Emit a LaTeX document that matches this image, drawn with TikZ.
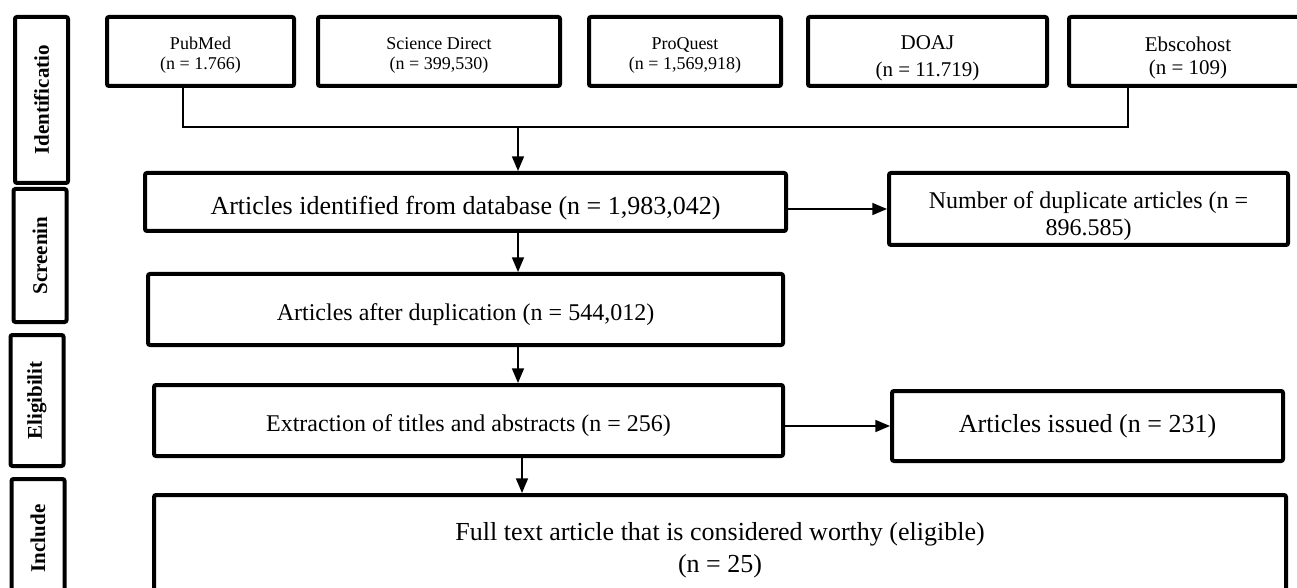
\documentclass[tikz,border=0pt]{standalone}
\usepackage{fontspec}
\setmainfont{Liberation Serif}
\usetikzlibrary{arrows.meta,positioning}

\begin{document}
\begin{tikzpicture}[x=0.75pt,y=-0.75pt,
        box/.style={draw, line width=3pt, rounded corners=1.5pt, align=center, inner sep=0pt},
        stage/.style={draw, line width=3pt, rounded corners=1.5pt, rotate=90, inner sep=0pt,
            minimum height=39.75pt, font=\fontsize{15.75}{18}\selectfont\bfseries},
        conn/.style={line width=1.2pt},
        arr/.style={line width=1.2pt, -{Triangle[length=11pt,width=9pt]}}]
        \useasboundingbox (0,0) rectangle (1297,588);
        \clip (0,0) rectangle (1297,588);

        % stages on the left
        \node[stage, minimum width=124.5pt] (sident) at (41.5,100) {Identificatio};
        \node[stage, minimum width=99.75pt] (sscreen) at (40,255.5) {Screenin};
        \node[stage, minimum width=98.25pt] (selig) at (37,400.5) {Eligibilit};
        \node[stage, minimum width=89.25pt] (sincl) at (38,538.5) {Include};

        % databases
        \node[box, minimum width=140.25pt, minimum height=51.75pt,
            font=\fontsize{13.5}{15}\selectfont] (pubmed) at (200.5,51.5) {\rule{0pt}{15.5pt}PubMed\\(n = 1.766)};
        \node[box, minimum width=181.5pt, minimum height=51.75pt,
            font=\fontsize{13.5}{15}\selectfont] (scidir) at (439,51.5) {\rule{0pt}{15.5pt}Science Direct\\(n = 399,530)};
        \node[box, minimum width=144pt, minimum height=51.75pt,
            font=\fontsize{13.5}{15}\selectfont] (proquest) at (685,51.5) {\rule{0pt}{15.5pt}ProQuest\\(n = 1,569,918)};
        \node[box, minimum width=179.25pt, minimum height=51.75pt,
            font=\fontsize{15.75}{20}\selectfont] (doaj) at (927.5,51.5) {\rule{0pt}{21pt}DOAJ\\(n = 11.719)};
        \node[box, minimum width=178.5pt, minimum height=51.75pt,
            font=\fontsize{15.75}{17}\selectfont] (ebsco) at (1188,51.5) {\rule{0pt}{21pt}Ebscohost\\(n = 109)};

        % flow boxes
        \node[box, minimum width=480.75pt, minimum height=43.5pt, text height=23pt, text depth=4pt,
            font=\fontsize{19.5}{22}\selectfont] (ident) at (465.5,202) {Articles identified from database (n = 1,983,042)};
        \node[box, minimum width=299.25pt, minimum height=54pt,
            font=\fontsize{18}{20}\selectfont] (dup) at (1088.5,209) {\rule{0pt}{23pt}Number of duplicate articles (n =\\896.585)};
        \node[box, minimum width=476.25pt, minimum height=53.25pt, text height=20pt, text depth=4pt,
            font=\fontsize{18}{20}\selectfont] (afterdup) at (465.5,309.5) {Articles after duplication (n = 544,012)};
        \node[box, minimum width=471.75pt, minimum height=53.25pt, text height=20pt, text depth=4pt,
            font=\fontsize{18}{20}\selectfont] (extract) at (468.5,420.5) {Extraction of titles and abstracts (n = 256)};
        \node[box, minimum width=293.25pt, minimum height=52.5pt,
            font=\fontsize{19.5}{22}\selectfont] (issued) at (1087.5,426) {Articles issued (n = 231)};
        \node[box, minimum width=849pt, minimum height=78pt,
            font=\fontsize{19.5}{24}\selectfont] (fulltext) at (720,547) {\rule{0pt}{18pt}Full text article that is considered worthy (eligible)\\(n = 25)};

        % connectors
        \coordinate (pubL) at (183,88);
        \coordinate (ebsL) at (1128,88);
        \coordinate (merge) at (518,127);
        \draw[conn] (pubmed.south -| pubL) |- (merge) -| (ebsco.south -| ebsL);
        \draw[arr] (merge) -- (ident.north -| merge);
        \draw[arr] (ident.south -| merge) -- (afterdup.north -| merge);
        \draw[arr] (afterdup.south -| merge) -- (extract.north -| merge);
        \draw[arr] ([xshift=3pt]extract.south -| merge) -- ([xshift=3pt]fulltext.north -| merge);
        \draw[arr] (ident.east |- dup.west) -- (dup.west);
        \draw[arr] (extract.east |- issued.west) -- (issued.west);
\end{tikzpicture}
\end{document}
